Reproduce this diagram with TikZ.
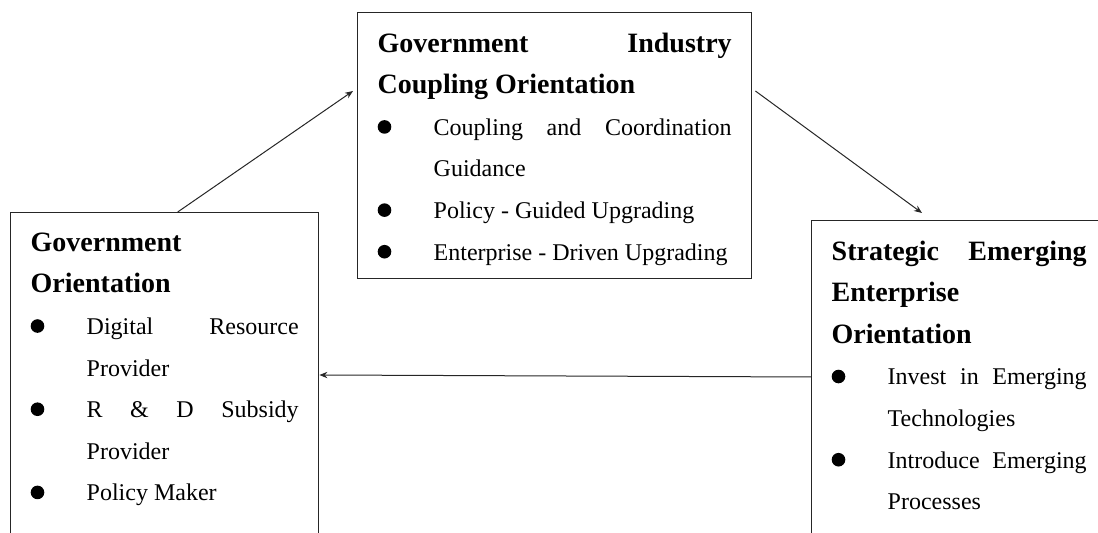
\documentclass[tikz,border=0pt]{standalone}
\usepackage{fontspec}
\setmainfont{Liberation Serif}
\usetikzlibrary{arrows.meta}
\hyphenpenalty=10000
\tolerance=10000

\newcommand{\boxhead}[1]{{\fontsize{14}{20.8}\selectfont\bfseries #1\par}}
\newcommand{\boxitem}[1]{\hangindent=28pt\hangafter=1\noindent
    \makebox[28pt][l]{\tikz[baseline=0pt]\fill (3.5pt,4.2pt) circle (3.4pt);}#1\par}
\newcommand{\boxend}[1]{\vskip#1\hrule height0pt}

\begin{document}
\begin{tikzpicture}[
    boxnode/.style={draw=black!85, line width=0.7pt, anchor=north west, align=justify,
        inner sep=10pt, font=\fontsize{12}{20.8}\selectfont},
    >={Stealth[length=4pt, width=3.2pt]}, link/.style={->, line width=0.5pt, black!85}]
    \useasboundingbox (0,0) rectangle (549pt,-266.5pt);
    \clip (0,0) rectangle (549pt,-266.5pt);

    \node (coupling) [boxnode, text width=177pt] at (178.5pt,-6pt) {
        \boxhead{Government Industry\linebreak Coupling Orientation}
        \boxitem{Coupling and Coordination\linebreak Guidance}
        \boxitem{Policy - Guided Upgrading}
        \boxitem{Enterprise - Driven Upgrading}
        \boxend{-3.5pt}};

    \node (govt) [boxnode, text width=134pt] at (5pt,-106pt) {
        \boxhead{Government\linebreak Orientation}
        \boxitem{Digital Resource\linebreak Provider}
        \boxitem{R \& D Subsidy\linebreak Provider}
        \boxitem{Policy Maker}
        \boxend{40pt}};

    \node (ent) [boxnode, text width=127.5pt] at (405.5pt,-110pt) {
        \boxhead{Strategic Emerging\linebreak Enterprise\linebreak Orientation}
        \boxitem{Invest in Emerging\linebreak Technologies}
        \boxitem{Introduce Emerging\linebreak Processes}
        \boxend{40pt}};

    \draw[link] ([xshift=6.5pt]govt.north) -- ([xshift=-2pt, yshift=-39.5pt]coupling.north west);
    \draw[link] ([xshift=1.5pt, yshift=-39.5pt]coupling.north east) -- ([xshift=55.5pt, yshift=3.5pt]ent.north west);
    \draw[link] ([yshift=-78.5pt]ent.north west) -- ([yshift=-81.5pt]govt.north east);
\end{tikzpicture}
\end{document}
